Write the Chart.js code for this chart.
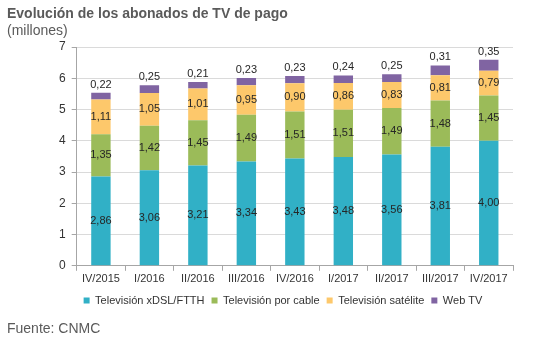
<!DOCTYPE html>
<html>
<head>
<meta charset="utf-8">
<script src="https://cdn.jsdelivr.net/npm/chart.js@4.4.0/dist/chart.umd.min.js"></script>
<style>
  body { margin: 0; background: #fff; font-family: "Liberation Sans", Arial, sans-serif; }
  #wrap { position: relative; width: 534px; height: 346px; }
  #titulo { position: absolute; left: 7px; top: 5px; font-size: 14px; font-weight: bold; color: #5a5a5a; }
  #unidad { position: absolute; left: 7px; top: 22px; font-size: 14px; color: #5a5a5a; }
  #fuente { position: absolute; left: 7px; top: 320px; font-size: 14px; color: #5a5a5a; }
  canvas { position: absolute; left: 0; top: 0; }
</style>
</head>
<body>
<div id="wrap">
  <canvas id="grafico" width="534" height="346"></canvas>
  <div id="titulo">Evolución de los abonados de TV de pago</div>
  <div id="unidad">(millones)</div>
  <div id="fuente">Fuente: CNMC</div>
</div>
<script>
const trimestres = ['IV/2015', 'I/2016', 'II/2016', 'III/2016', 'IV/2016', 'I/2017', 'II/2017', 'III/2017', 'IV/2017'];
const xdslFtth = [2.86, 3.06, 3.21, 3.34, 3.43, 3.48, 3.56, 3.81, 4.00];
const cable = [1.35, 1.42, 1.45, 1.49, 1.51, 1.51, 1.49, 1.48, 1.45];
const satelite = [1.11, 1.05, 1.01, 0.95, 0.90, 0.86, 0.83, 0.81, 0.79];
const webTv = [0.22, 0.25, 0.21, 0.23, 0.23, 0.24, 0.25, 0.31, 0.35];
const ejeY = [0, 1, 2, 3, 4, 5, 6, 7];

const fuente = '"Liberation Sans", Arial, sans-serif';

function formatoNum(v) {
    return v.toFixed(2).replace('.', ',');
}

// etiquetas de valores dentro de cada segmento (y encima del ultimo)
const etiquetasPlugin = {
    id: 'etiquetas',
    afterDatasetsDraw(chart) {
        const ctx = chart.ctx;
        ctx.save();
        ctx.font = '11px ' + fuente;
        ctx.fillStyle = '#262626';
        ctx.textAlign = 'center';
        ctx.textBaseline = 'middle';
        const ultimo = chart.data.datasets.length - 1;
        chart.data.datasets.forEach((ds, i) => {
            const meta = chart.getDatasetMeta(i);
            meta.data.forEach((bar, j) => {
                let y = (bar.y + bar.base) / 2;
                if (i == ultimo) {
                    y = bar.y - 8;
                }
                ctx.fillText(formatoNum(ds.data[j]), bar.x, y);
            });
        });
        ctx.restore();
    }
};

function serie(label, data, color) {
    return {
        label: label,
        data: data,
        backgroundColor: color,
        barPercentage: 0.4,
        categoryPercentage: 1
    };
}

const chart = new Chart(document.getElementById('grafico'), {
    type: 'bar',
    data: {
        labels: trimestres,
        datasets: [
            serie('Televisión xDSL/FTTH', xdslFtth, '#31b0c6'),
            serie('Televisión por cable', cable, '#9bbb59'),
            serie('Televisión satélite', satelite, '#fdc86b'),
            serie('Web TV', webTv, '#8064a2')
        ]
    },
    options: {
        responsive: false,
        animation: false,
        layout: {
            padding: { top: 47, right: 21, bottom: 30, left: 53 }
        },
        plugins: {
            tooltip: { enabled: false },
            legend: {
                position: 'bottom',
                labels: {
                    boxWidth: 6,
                    boxHeight: 6,
                    padding: 7,
                    color: '#333',
                    font: { size: 11, family: fuente }
                }
            }
        },
        scales: {
            x: {
                stacked: true,
                offset: true,
                grid: { offset: true, drawOnChartArea: false, tickLength: 5, color: '#a6a6a6' },
                border: { color: '#a6a6a6' },
                ticks: { color: '#333', font: { size: 11, family: fuente }, maxRotation: 0, padding: 2 }
            },
            y: {
                stacked: true,
                min: ejeY[0],
                max: ejeY[ejeY.length - 1],
                afterBuildTicks: (axis) => { axis.ticks = ejeY.map(v => ({ value: v })); },
                grid: { color: '#dadada', tickLength: 5, tickColor: '#a6a6a6' },
                border: { color: '#a6a6a6' },
                ticks: { color: '#333', font: { size: 12, family: fuente }, padding: 6 }
            }
        }
    },
    plugins: [etiquetasPlugin]
});
</script>
</body>
</html>
